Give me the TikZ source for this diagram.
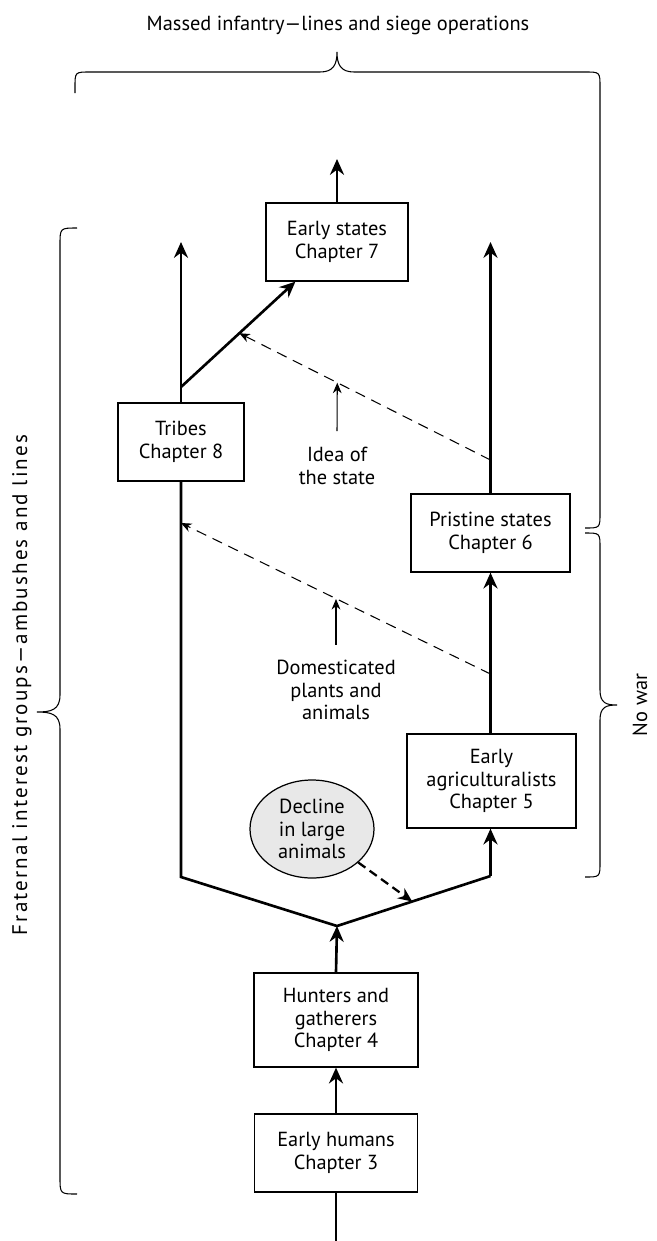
\documentclass[tikz,border=0pt]{standalone}
\usepackage{fontspec}
\setmainfont{PT Sans}
\newfontfamily\widesans[LetterSpace=10]{PT Sans}
\usetikzlibrary{positioning,arrows.meta,shapes.geometric,calc}

\begin{document}
\begin{tikzpicture}[
    font=\fontsize{11.6}{12.8}\selectfont,
    box/.style={draw, line width=0.7pt, minimum height=1.56cm, align=center, inner sep=2pt},
    lbl/.style={align=center},
    arrow/.style={-{Stealth[length=9pt, width=8pt]}, line width=1.5pt},
    link/.style={line width=1.5pt},
    hint/.style={-{Stealth[length=6pt, width=5pt]}, dash pattern=on 6pt off 4pt, line width=0.6pt},
    cause/.style={-{Stealth[length=6pt, width=5pt]}, line width=0.6pt},
    drive/.style={-{Stealth[length=8pt, width=7pt]}, dash pattern=on 5pt off 3pt, line width=1.3pt},
    brace/.style={line width=0.6pt}
]
\useasboundingbox (0,0) rectangle (13.12,-24.82);

% Stages
\node[box, minimum width=2.84cm] (es) at (6.74,-4.84) {Early states\\Chapter 7};
\node[box, minimum width=2.52cm] (tribes) at (3.62,-8.84) {Tribes\\Chapter 8};
\node[box, minimum width=3.18cm] (pristine) at (9.81,-10.66) {Pristine states\\Chapter 6};
\node[box, minimum width=3.38cm, minimum height=1.88cm] (eagr) at (9.83,-15.62) {Early\\agriculturalists\\Chapter 5};
\node[box, minimum width=3.28cm, minimum height=1.88cm] (hunters) at (6.72,-20.40) {Hunters and\\gatherers\\Chapter 4};
\node[box, minimum width=3.26cm] (humans) at (6.72,-23.06) {Early humans\\Chapter 3};
\node[ellipse, draw, line width=0.7pt, fill=gray!18, minimum width=2.48cm, minimum height=1.96cm, inner sep=0pt, align=center] (decline) at (6.24,-16.58) {Decline\\in large\\animals};

% Labels
\node[lbl] (title) at (6.76,-0.50) {Massed infantry—lines and siege operations};
\node[lbl] (idea) at (6.74,-9.32) {Idea of\\the state};
\node[lbl] (domest) at (6.72,-13.80) {Domesticated\\plants and\\animals};
\node[lbl, rotate=90] (nowar) at (12.80,-14.10) {No war};
\node[lbl, rotate=90, font=\widesans\fontsize{12}{14}\selectfont] (fraternal) at (0.44,-13.70) {Fraternal interest groups—ambushes and lines};

% Junctions
\coordinate (vl) at (3.62,-17.54);
\coordinate (vb) at (6.74,-18.52);
\coordinate (vr) at (9.81,-17.52);
\coordinate (tipL) at (3.62,-4.84);
\coordinate (tipR) at (9.81,-4.84);
\coordinate (tipES) at (6.74,-3.18);
\coordinate (dstart) at (3.62,-7.74);
\coordinate (esin) at ([xshift=0.6cm]es.south west);
\coordinate (sUp) at (9.81,-9.20);
\coordinate (sDn) at (9.81,-13.48);
\coordinate (bottom) at (6.72,-24.82);

% Main lines
\draw[arrow] (es.north) -- (tipES);
\draw[arrow] (tribes.north) -- (tipL);
\draw[arrow] (dstart) -- (esin);
\draw[arrow] (pristine.north) -- (tipR);
\draw[arrow] (eagr.north -| vr) -- (pristine.south);
\draw[link] (tribes.south) -- (vl) -- (vb) -- (vr);
\draw[arrow] (vr) -- (vr |- eagr.south);
\draw[arrow] (hunters.north) -- (vb);
\draw[arrow] (humans.north) -- (hunters.south);
\draw[link] (humans.south) -- (bottom);

% Influences
\coordinate (ideaTip) at ($(dstart)!0.51!(esin)$);
\draw[hint] (sUp) -- (ideaTip);
\draw[cause] ([yshift=2mm]idea.north) -- ($(sUp)!0.61!(ideaTip)$);
\draw[hint] (sDn) -- (tribes.south |- 0,-10.46);
\draw[cause] ([yshift=1.8mm]domest.north) -- (6.72,-11.98);
\draw[drive] (decline) -- ($(vb)!0.49!(vr)$);

% Braces
\draw[brace] (1.50,-1.86) -- (1.50,-1.74) .. controls (1.50,-1.44) .. (1.80,-1.44) -- (6.40,-1.44)
    .. controls (6.66,-1.44) and (6.74,-1.30) .. (6.74,-1.04)
    .. controls (6.74,-1.30) and (6.82,-1.44) .. (7.08,-1.44) -- (11.70,-1.44)
    .. controls (12.00,-1.44) .. (12.00,-1.74) -- (12.00,-10.26) .. controls (12.00,-10.56) .. (11.70,-10.56);
\draw[brace] (11.70,-10.66) .. controls (12.00,-10.66) .. (12.00,-10.96) -- (12.00,-13.80)
    .. controls (12.00,-14.06) and (12.12,-14.10) .. (12.34,-14.10)
    .. controls (12.12,-14.10) and (12.00,-14.14) .. (12.00,-14.40) -- (12.00,-17.24)
    .. controls (12.00,-17.54) .. (11.70,-17.54);
\draw[brace] (1.54,-4.56) .. controls (1.20,-4.56) .. (1.20,-4.90) -- (1.20,-13.90)
    .. controls (1.20,-14.20) and (1.02,-14.24) .. (0.74,-14.24)
    .. controls (1.02,-14.24) and (1.20,-14.28) .. (1.20,-14.58) -- (1.20,-23.54)
    .. controls (1.20,-23.88) .. (1.54,-23.88);
\end{tikzpicture}
\end{document}
